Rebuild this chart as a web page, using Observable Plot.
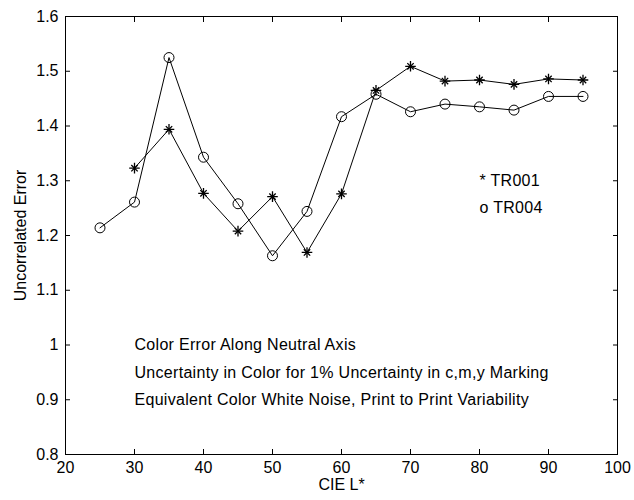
<!DOCTYPE html>
<html>
<head>
<meta charset="utf-8">
<script src="https://cdn.jsdelivr.net/npm/d3@7"></script>
<script src="https://cdn.jsdelivr.net/npm/@observablehq/plot@0.6"></script>
<style>
  html, body { margin: 0; padding: 0; background: #fff; }
  #chart svg { display: block; }
  /* slightly looser spacing for the in-axes notes */
  .notes-plot g[aria-label="text"] text { letter-spacing: 0.3px; }
</style>
</head>
<body>
<div id="chart"></div>
<script>
// CIE L* levels along the neutral axis
const lightness = [25, 30, 35, 40, 45, 50, 55, 60, 65, 70, 75, 80, 85, 90, 95];
// Uncorrelated error per target (TR001 has no sample at L* = 25)
const tr001 = [null, 1.323, 1.394, 1.277, 1.208, 1.271, 1.169, 1.276, 1.465, 1.509, 1.482, 1.484, 1.476, 1.486, 1.484];
const tr004 = [1.214, 1.261, 1.525, 1.343, 1.258, 1.163, 1.244, 1.417, 1.458, 1.426, 1.440, 1.435, 1.429, 1.454, 1.454];

const xTicks = [20, 30, 40, 50, 60, 70, 80, 90, 100];
const yTicks = [0.8, 0.9, 1.0, 1.1, 1.2, 1.3, 1.4, 1.5, 1.6];
const yTickLabels = ["0.8", "0.9", "1", "1.1", "1.2", "1.3", "1.4", "1.5", "1.6"];

// Notes written inside the axes (data coordinates, left-aligned)
const notes = [
  {x: 30, y: 1.00, text: "Color Error Along Neutral Axis"},
  {x: 30, y: 0.95, text: "Uncertainty in Color for 1% Uncertainty in c,m,y Marking"},
  {x: 30, y: 0.90, text: "Equivalent Color White Noise, Print to Print Variability"}
];
const legendNotes = [
  {x: 80, y: 1.30, text: "* TR001"},
  {x: 80, y: 1.25, text: "o TR004"}
];

const rows001 = lightness.map((L, i) => ({L, v: tr001[i]})).filter(d => d.v != null);
const rows004 = lightness.map((L, i) => ({L, v: tr004[i]}));

const tickOpts = {fill: "none", label: null, tickSize: 5, stroke: "#000"};

const chart = Plot.plot({
  className: "notes-plot",
  width: 634,
  height: 500,
  marginLeft: 65,
  marginRight: 17,
  marginTop: 16,
  marginBottom: 46,
  style: {fontFamily: "'Liberation Sans', Arial, sans-serif", fontSize: "16px", color: "#000", background: "#fff"},
  x: {domain: [20, 100]},
  y: {domain: [0.8, 1.6]},
  marks: [
    // inward ticks on all four sides
    Plot.axisX(xTicks, {...tickOpts, anchor: "bottom", dy: -5}),
    Plot.axisX(xTicks, {...tickOpts, anchor: "top", dy: 5}),
    Plot.axisY(yTicks, {...tickOpts, anchor: "left", dx: 5}),
    Plot.axisY(yTicks, {...tickOpts, anchor: "right", dx: -5}),
    // tick labels and axis titles
    Plot.axisX(xTicks, {anchor: "bottom", tickSize: 0, tickPadding: 7, label: "CIE L*", labelAnchor: "center", labelArrow: "none", labelOffset: 35, fill: "#000"}),
    Plot.axisY(yTicks, {anchor: "left", tickSize: 0, tickPadding: 7, tickFormat: (d, i) => yTickLabels[i], label: "Uncorrelated Error", labelAnchor: "center", labelArrow: "none", labelOffset: 51, fill: "#000"}),
    Plot.frame({stroke: "#000"}),
    // TR001: asterisk markers
    Plot.line(rows001, {x: "L", y: "v", stroke: "#000", strokeWidth: 1}),
    Plot.dot(rows001, {x: "L", y: "v", symbol: "plus", r: 3.5, stroke: "#000", strokeWidth: 1.3}),
    Plot.dot(rows001, {x: "L", y: "v", symbol: "times", r: 3.0, stroke: "#000", strokeWidth: 1.3}),
    // TR004: open circle markers
    Plot.line(rows004, {x: "L", y: "v", stroke: "#000", strokeWidth: 1}),
    Plot.dot(rows004, {x: "L", y: "v", symbol: "circle", r: 5, stroke: "#000", fill: "none", strokeWidth: 1}),
    // annotations
    Plot.text(notes, {x: "x", y: "y", text: "text", textAnchor: "start", lineAnchor: "middle", fill: "#000"}),
    Plot.text(legendNotes, {x: "x", y: "y", text: "text", textAnchor: "start", lineAnchor: "middle", fill: "#000"})
  ]
});
document.getElementById("chart").append(chart);
</script>
</body>
</html>
